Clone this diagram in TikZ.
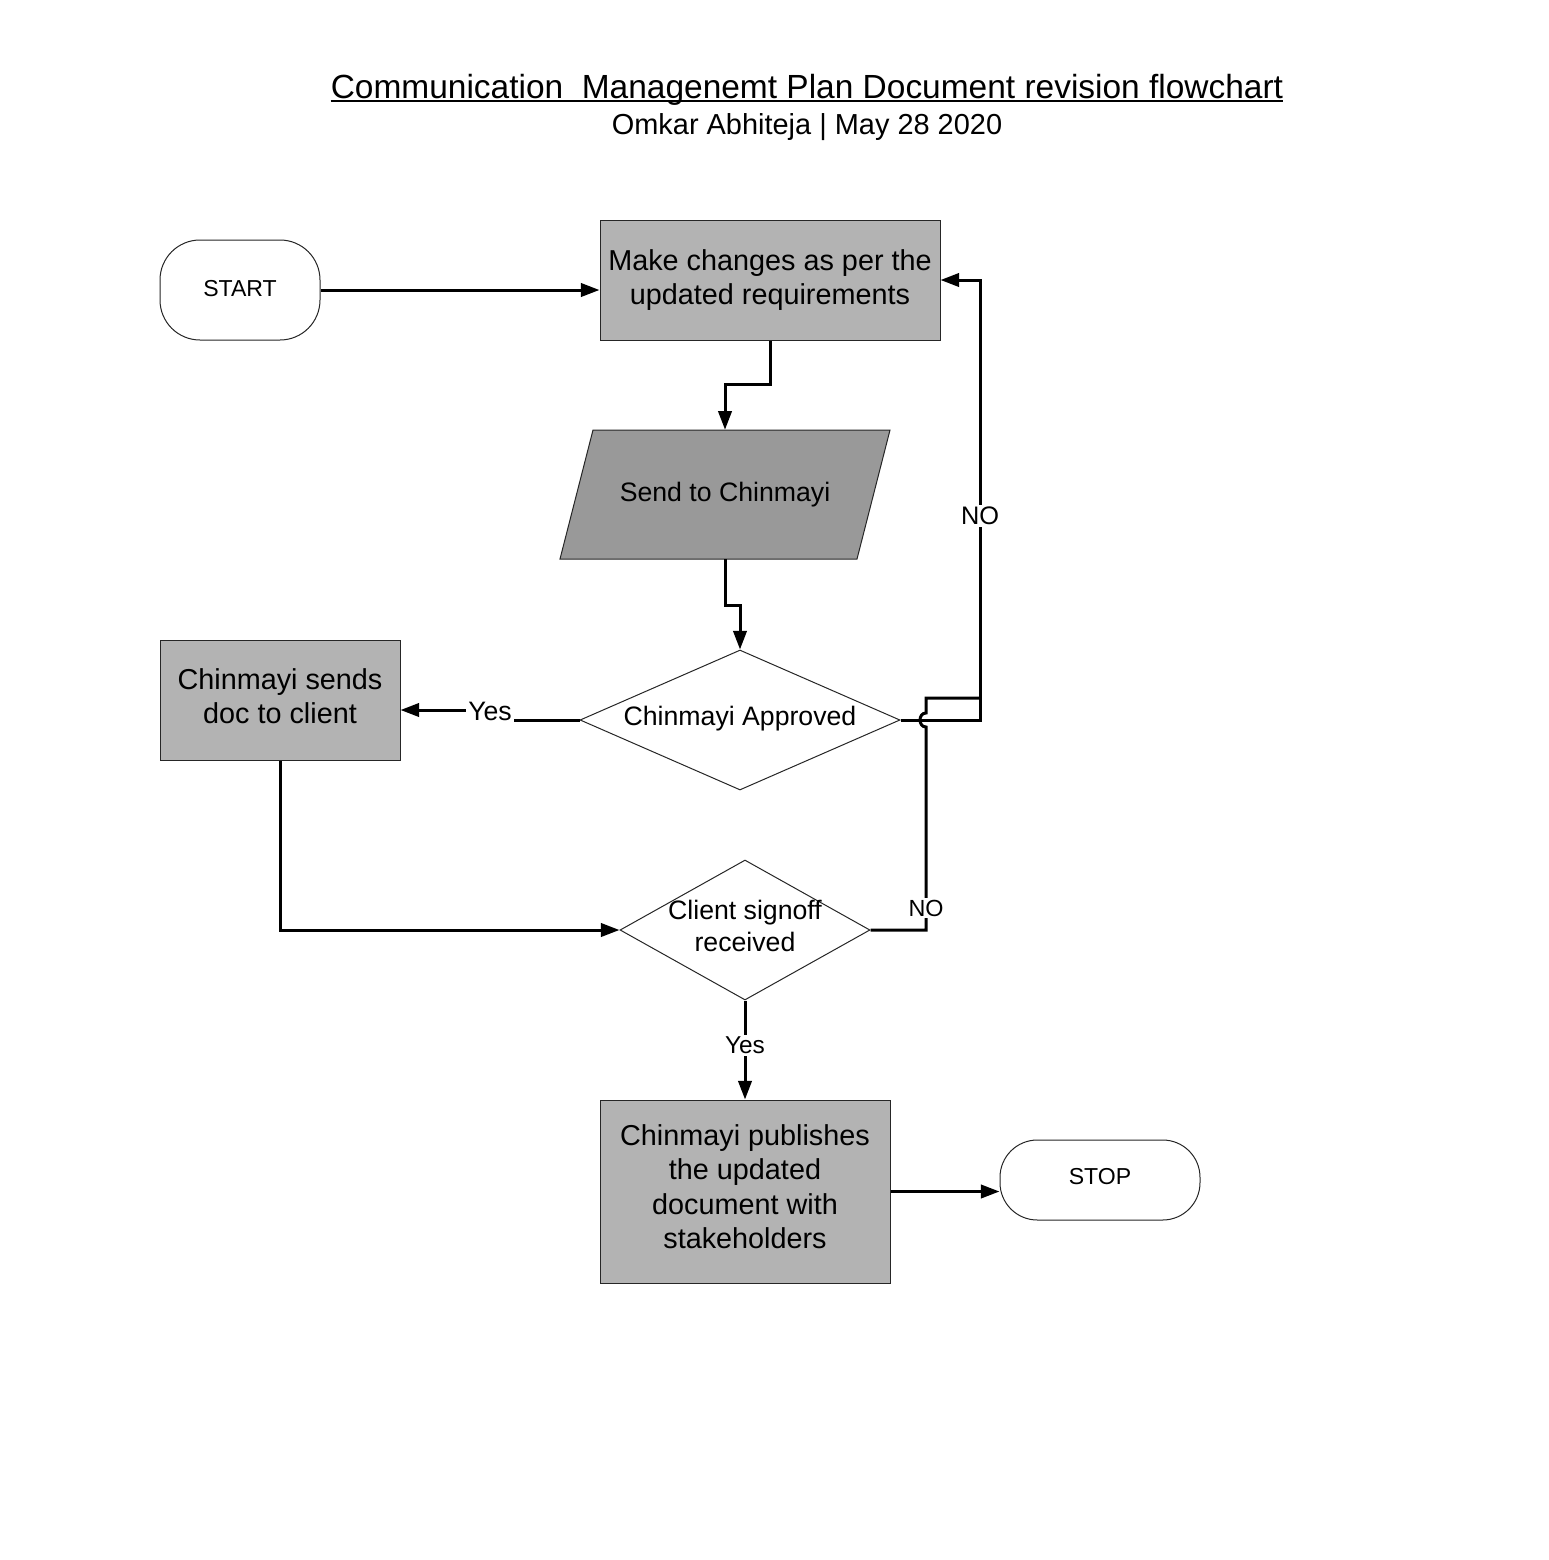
\documentclass[tikz,border=0pt]{standalone}
\usepackage{fontspec}
\setmainfont{Liberation Sans}
\usetikzlibrary{shapes.geometric,arrows.meta,calc}
\definecolor{boxgray}{HTML}{B3B3B3}
\definecolor{paragray}{HTML}{999999}
\begin{document}
\begin{tikzpicture}[x=0.75pt,y=-0.75pt,
  conn/.style={line width=2.25pt,-{Triangle[length=14pt,width=10pt]}},
  plain/.style={line width=2.25pt},
  procbox/.style={draw=black!85,line width=0.75pt,fill=boxgray,inner sep=0pt,align=center,
    font=\fontsize{21.6pt}{25.9pt}\selectfont},
  termbox/.style={draw=black!85,line width=0.75pt,fill=white,inner sep=0pt,
    font=\fontsize{17.3pt}{20pt}\selectfont},
  decbox/.style={diamond,draw=black!85,line width=0.75pt,fill=white,inner sep=0pt},
  dectext/.style={align=center,inner sep=0pt,font=\fontsize{20pt}{24pt}\selectfont},
  lbl/.style={fill=white,inner sep=1.5pt}]
\useasboundingbox (0,0) rectangle (1549,1560);
% title
\node[anchor=base,inner sep=0pt,font=\fontsize{25.1pt}{30pt}\selectfont] (title) at (807,98)
  {Communication~ Managenemt Plan Document revision flowchart};
\draw[line width=1.5pt] ([yshift=-2.6pt]title.base west) -- ([yshift=-2.6pt]title.base east);
\node[anchor=base,inner sep=0pt,font=\fontsize{21.7pt}{26pt}\selectfont] (subtitle) at (807,134)
  {Omkar Abhiteja | May 28 2020};
% nodes
\node[termbox,rounded corners=30pt,minimum width=120pt,minimum height=75pt,text depth=3pt] (start) at (240,290) {START};
\node[procbox,minimum width=255pt,minimum height=90pt] (box1) at (770,280)
  {Make changes as per the\\updated requirements};
\fill[paragray] (593,430) -- (890,430) -- (857,559) -- (560,559) -- cycle;
\draw[black!85,line width=0.75pt] (593,430) -- (890,430) -- (857,559) -- (560,559) -- cycle;
\node[inner sep=0pt,minimum width=222pt,minimum height=96.75pt,font=\fontsize{20pt}{24pt}\selectfont] (send) at (725,494.5) {Send to Chinmayi};
\node[decbox,minimum width=240pt,minimum height=105pt] (d1) at (740,720) {};
\node[dectext] (d1t) at ($(d1.center)+(0,-1)$) {Chinmayi Approved};
\node[procbox,minimum width=180pt,minimum height=90pt,text depth=6pt] (box2) at (280,700)
  {Chinmayi sends\\doc to client};
\node[decbox,minimum width=187.5pt,minimum height=105pt] (d2) at (745,930) {};
\node[dectext] (d2t) at ($(d2.center)+(0,-4)$) {Client signoff\\received};
\node[procbox,minimum width=217.5pt,minimum height=137.25pt,text depth=7.5pt] (box3) at (745,1191.5)
  {Chinmayi publishes\\the updated\\document with\\stakeholders};
\node[termbox,rounded corners=28pt,minimum width=150pt,minimum height=60pt,text depth=6pt] (stop) at (1100,1180) {STOP};
% connectors
\draw[conn] (start.east) -- (start.east -| box1.west);
\draw[conn] (box1.south) -- ++(0,44) -| (send.north);
\draw[conn] (send.south) -- ++(0,46) -| (d1.north);
\draw[conn] (d1.west) -- (490,720) -- node[lbl,pos=0.9,font=\fontsize{20pt}{24pt}\selectfont] {Yes} (490,710) -- ($(box2.east)+(0,10)$);
\draw[conn] (box2.south) |- (d2.west);
\draw[conn] (d2.south) -- node[lbl,pos=0.45,font=\fontsize{18.3pt}{22pt}\selectfont] {Yes} (box3.north);
\draw[conn] (box3.east) -- (box3.east -| stop.west);
\draw[conn] (d1.east) -- (980,720) -- node[lbl,pos=0.464,font=\fontsize{19pt}{22pt}\selectfont] {NO} (980,280) -- (box1.east);
\draw[plain] (d2.east) -- (926,930) -- node[lbl,pos=0.108,font=\fontsize{17.5pt}{21pt}\selectfont] {NO} (926,727)
  .. controls (918,727) and (918,713) .. (926,713) -- (926,698) -- (980,698);
\end{tikzpicture}
\end{document}
